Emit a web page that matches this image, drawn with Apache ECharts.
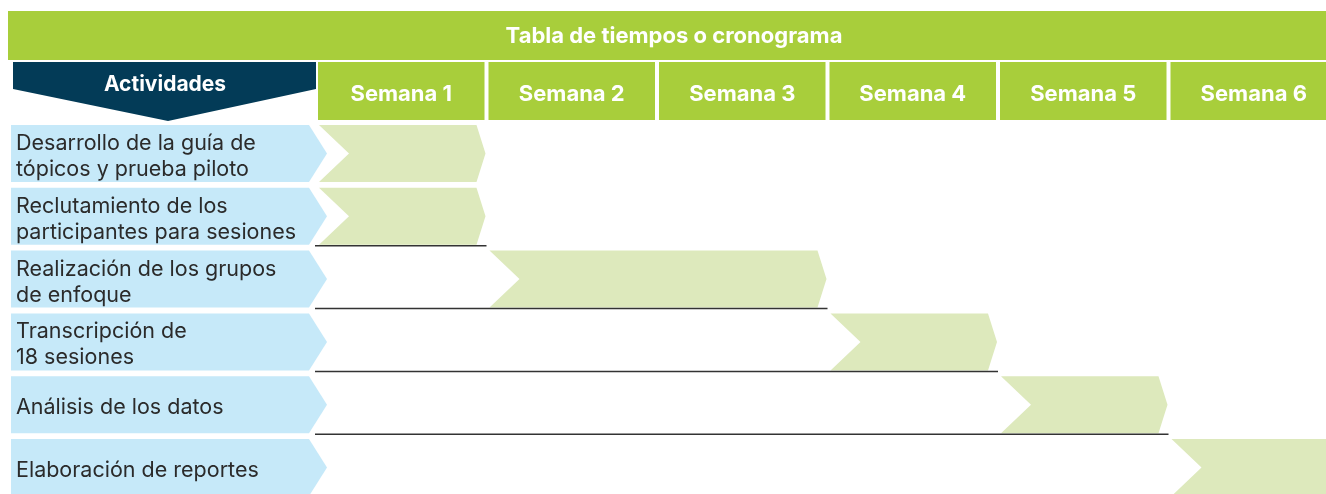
<!DOCTYPE html>
<html>
<head>
<meta charset="utf-8">
<script src="https://cdn.jsdelivr.net/npm/echarts@6/dist/echarts.min.js"></script>
<style>html,body{margin:0;padding:0;background:#fff;}#c{width:1326px;height:494px;}</style>
</head>
<body>
<div id="c"></div>
<script>
const titleText = 'Tabla de tiempos o cronograma';
const headerLabel = 'Actividades';
const weeks = ['Semana 1', 'Semana 2', 'Semana 3', 'Semana 4', 'Semana 5', 'Semana 6'];
const activities = [
  'Desarrollo de la guía de\ntópicos y prueba piloto',
  'Reclutamiento de los\nparticipantes para sesiones',
  'Realización de los grupos\nde enfoque',
  'Transcripción de\n18 sesiones',
  'Análisis de los datos',
  'Elaboración de reportes'
];
const startWeek = [1, 1, 2, 4, 5, 6];
const endWeek = [1, 1, 3, 4, 5, 6];

const GREEN = '#a8ce3b';
const LIGHT_GREEN = '#dde9bc';
const BLUE = '#c6e9f9';
const NAVY = '#033b57';
const FONT = 'Inter, sans-serif';

const chart = echarts.init(document.getElementById('c'), null, {renderer: 'canvas'});

const option = {
  animation: false,
  backgroundColor: '#fff',
  grid: {left: 316, top: 122, width: 1023, height: 377, outerBoundsMode: 'none', containLabel: false},
  xAxis: {type: 'value', min: 0, max: weeks.length, show: false},
  yAxis: {type: 'category', data: activities, inverse: true, show: false},
  graphic: [
    {type: 'rect', shape: {x: 8, y: 11, width: 1330, height: 49}, style: {fill: GREEN}, z: 1},
    {type: 'text', x: 674, y: 36, style: {text: titleText, fill: '#fff', font: 'bold 22px ' + FONT, align: 'center', verticalAlign: 'middle'}, z: 2},
    {type: 'polygon', shape: {points: [[13, 62], [316, 62], [316, 89], [168, 121], [13, 89]]}, style: {fill: NAVY}, z: 1},
    {type: 'text', x: 165, y: 85, style: {text: headerLabel, fill: '#fff', font: 'bold 21px ' + FONT, align: 'center', verticalAlign: 'middle'}, z: 2}
  ],
  series: [
    {
      type: 'custom',
      name: 'weeks',
      data: weeks.map((w, i) => [i, i + 1, 0]),
      renderItem: function (params, api) {
        const a = api.coord([api.value(0), api.value(2)])[0];
        const b = api.coord([api.value(1), api.value(2)])[0];
        return {
          type: 'group',
          children: [
            {type: 'rect', shape: {x: a + 2, y: 62, width: b - a - 4, height: 58}, style: {fill: GREEN}},
            {type: 'text', style: {text: weeks[params.dataIndex], x: (a + b) / 2, y: 94, fill: '#fff', font: 'bold 22px ' + FONT, align: 'center', verticalAlign: 'middle'}}
          ]
        };
      }
    },
    {
      type: 'custom',
      name: 'activities',
      data: activities.map((a, i) => [0, i]),
      renderItem: function (params, api) {
        const c = api.coord([0, api.value(1)]);
        const cy = c[1];
        const hh = 28.5;
        return {
          type: 'group',
          children: [
            {type: 'polygon', shape: {points: [[11, cy - hh], [309, cy - hh], [327, cy], [309, cy + hh], [11, cy + hh]]}, style: {fill: BLUE}},
            {type: 'text', style: {text: activities[params.dataIndex], x: 16, y: cy + 3, fill: '#2b2b2b', font: '21.5px ' + FONT, lineHeight: 26, align: 'left', verticalAlign: 'middle'}}
          ]
        };
      }
    },
    {
      type: 'custom',
      name: 'gantt',
      data: activities.map((a, i) => [startWeek[i] - 1, endWeek[i], i]),
      renderItem: function (params, api) {
        const s = api.coord([api.value(0), api.value(2)]);
        const e = api.coord([api.value(1), api.value(2)]);
        const g = api.coord([0, api.value(2)]);
        const cy = s[1];
        const hh = 28.5;
        const x0 = s[0] + 3;
        const notch = 30;
        const children = [
          {type: 'polygon', shape: {points: [[x0, cy - hh], [e[0] - 10, cy - hh], [e[0] - 1, cy], [e[0] - 10, cy + hh], [x0, cy + hh], [x0 + notch, cy]]}, style: {fill: LIGHT_GREEN}}
        ];
        if (params.dataIndex > 0) {
          children.push({type: 'line', shape: {x1: g[0] - 1, y1: cy + hh + 1, x2: e[0], y2: cy + hh + 1}, style: {stroke: '#333', lineWidth: 1.5}});
        }
        return {type: 'group', children: children};
      }
    }
  ]
};
chart.setOption(option);
</script>
</body>
</html>
